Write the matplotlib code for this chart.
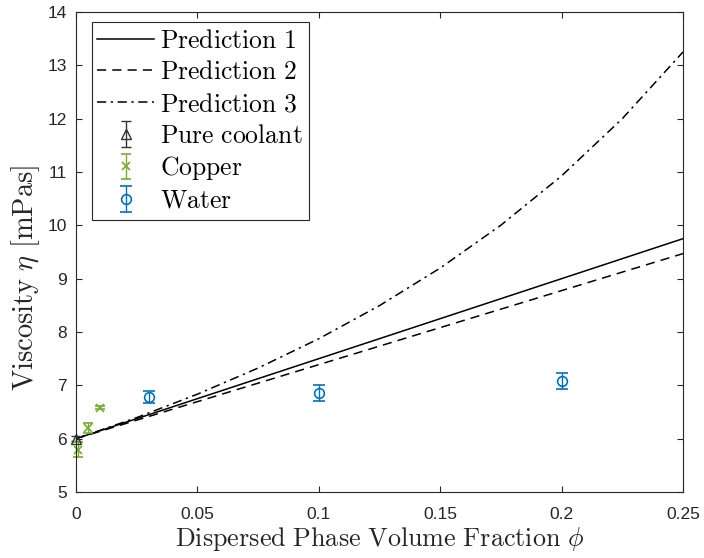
import matplotlib
matplotlib.use("Agg")
import matplotlib.pyplot as plt

# Model predictions of viscosity vs. dispersed phase volume fraction
phi_pred = [0.0, 0.025, 0.05, 0.075, 0.1, 0.125, 0.15, 0.175, 0.2, 0.225, 0.25]
pred1 = [6.0, 6.375, 6.75, 7.125, 7.5, 7.875, 8.25, 8.625, 9.0, 9.375, 9.75]
pred2 = [6.0, 6.347, 6.694, 7.041, 7.388, 7.735, 8.082, 8.429, 8.776, 9.123, 9.47]
pred3 = [6.0, 6.395, 6.834, 7.324, 7.874, 8.495, 9.199, 10.003, 10.927, 12.0, 13.25]

# Measurements
coolant_phi = [0.0]
coolant_eta = [6.0]
coolant_err = [0.05]

copper_phi = [0.001, 0.005, 0.01]
copper_eta = [5.79, 6.2, 6.58]
copper_err = [0.14, 0.1, 0.03]

water_phi = [0.03, 0.1, 0.2]
water_eta = [6.78, 6.86, 7.09]
water_err = [0.12, 0.15, 0.15]

xticks = [0, 0.05, 0.1, 0.15, 0.2, 0.25]
xtick_labels = ["0", "0.05", "0.1", "0.15", "0.2", "0.25"]
yticks = [5, 6, 7, 8, 9, 10, 11, 12, 13, 14]

plt.rcParams["mathtext.fontset"] = "cm"
axis_color = "#262626"
blue = "#0072BD"
green = "#77AC30"

fig = plt.figure(figsize=(7.04, 5.58), dpi=100)
ax = fig.add_axes([76 / 704, 66 / 558, 607 / 704, 480 / 558])

ax.plot(phi_pred, pred1, color="black", lw=1.1, ls="-",
        label=r"$\mathrm{Prediction\ 1}$")
ax.plot(phi_pred, pred2, color="black", lw=1.1, ls=(0, (6, 4)),
        label=r"$\mathrm{Prediction\ 2}$")
ax.plot(phi_pred, pred3, color="black", lw=1.1, ls=(0, (6, 3, 1.5, 3)),
        label=r"$\mathrm{Prediction\ 3}$")

ax.errorbar(coolant_phi, coolant_eta, yerr=coolant_err, fmt="^", color="#333333",
            mfc="none", ms=7, capsize=3.5, elinewidth=1.0, capthick=1.0,
            clip_on=False, label=r"$\mathrm{Pure\ coolant}$")
ax.errorbar(copper_phi, copper_eta, yerr=copper_err, fmt="x", color=green,
            ms=6, mew=1.2, capsize=3.5, elinewidth=1.0, capthick=1.0,
            clip_on=False, label=r"$\mathrm{Copper}$")
ax.errorbar(water_phi, water_eta, yerr=water_err, fmt="o", color=blue,
            mfc="none", ms=7, mew=1.2, capsize=4.5, elinewidth=1.0, capthick=1.2,
            label=r"$\mathrm{Water}$")

ax.set_xlim(0, 0.25)
ax.set_ylim(5, 14)
ax.set_xticks(xticks)
ax.set_xticklabels(xtick_labels)
ax.set_yticks(yticks)

for s in ax.spines.values():
    s.set_color(axis_color)
    s.set_linewidth(0.8)
ax.tick_params(direction="in", top=True, right=True, length=4, width=0.8,
               color=axis_color, labelcolor=axis_color, labelsize=12.5)
ax.tick_params(axis="x", pad=11)
ax.tick_params(axis="y", pad=6.5)
for lab in ax.get_xticklabels() + ax.get_yticklabels():
    lab.set_family("Liberation Sans")

ax.set_xlabel(r"$\mathrm{Dispersed\ Phase\ Volume\ Fraction}\ \phi$",
              fontsize=18.8, color=axis_color, labelpad=2)
ax.set_ylabel(r"$\mathrm{Viscosity}\ \eta\ [\mathrm{mPas}]$",
              fontsize=20.5, color=axis_color)
ax.yaxis.set_label_coords(-0.056, 0.445)

leg = ax.legend(loc="upper left", bbox_to_anchor=(0.026, 0.979),
                borderaxespad=0, fontsize=18.5, handlelength=2.2,
                handletextpad=0.25, labelspacing=0.22, borderpad=0.22,
                fancybox=False, framealpha=1, edgecolor=axis_color)
leg.get_frame().set_linewidth(0.8)

fig.savefig("out.png", dpi=100)
